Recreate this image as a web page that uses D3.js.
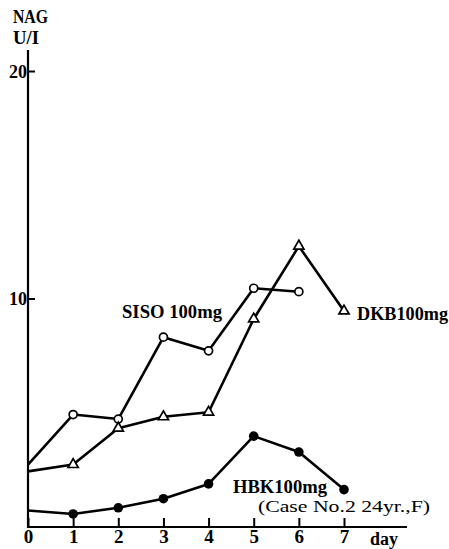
<!DOCTYPE html>
<html><head><meta charset="utf-8">
<script src="https://cdn.jsdelivr.net/npm/d3@7"></script>
<style>
html,body{margin:0;padding:0;background:#fff;}
svg{display:block;}
text{font-family:"Liberation Serif","DejaVu Serif",serif;fill:#000;}
</style></head>
<body>
<script>
const days = [0,1,2,3,4,5,6,7];
const sisoValues = [2.7, 4.9, 4.7, 8.3, 7.7, 10.45, 10.3];
const dkbValues  = [2.4, 2.7, 4.3, 4.8, 5.0, 9.1, 12.3, 9.45];
const hbkValues  = [0.68, 0.53, 0.8, 1.2, 1.85, 3.95, 3.25, 1.6];
const yTicks = [10, 20];

const W = 449, H = 549;
const svg = d3.select("body").append("svg").attr("width", W).attr("height", H);

const x = d3.scaleLinear().domain([0, 7]).range([28, 344]);
const y = d3.scaleLinear().domain([0, 20]).range([526, 71]);

// axes
const yAxis = d3.axisLeft(y).tickValues(yTicks).tickSize(-7).tickPadding(3).tickFormat(d3.format("d"));
const gy = svg.append("g").attr("transform", "translate(28,0)").call(yAxis);
gy.select(".domain").remove();
gy.selectAll(".tick line").attr("stroke", "#000").attr("stroke-width", 2);
gy.selectAll(".tick text").attr("font-size", 18).attr("font-weight", "bold").attr("dy", "0.36em").attr("x", -1);
svg.append("line").attr("x1", 28).attr("x2", 28).attr("y1", 50).attr("y2", 528)
  .attr("stroke", "#000").attr("stroke-width", 2.2);

const xAxis = d3.axisBottom(x).tickValues(days).tickSize(-9).tickPadding(6).tickFormat(d3.format("d"));
const gx = svg.append("g").attr("transform", "translate(0,527)").call(xAxis);
gx.select(".domain").remove();
gx.selectAll(".tick line").attr("stroke", "#000").attr("stroke-width", 2);
gx.selectAll(".tick text").attr("font-size", 19).attr("font-weight", "bold").attr("dy", "0.5em");
svg.append("line").attr("x1", 27).attr("x2", 407).attr("y1", 527).attr("y2", 527)
  .attr("stroke", "#000").attr("stroke-width", 2.2);

function label(xp, yp, size, str, len, bold) {
  const t = svg.append("text").attr("x", xp).attr("y", yp).attr("font-size", size)
    .attr("font-weight", bold ? "bold" : "normal").text(str);
  if (len) t.attr("textLength", len).attr("lengthAdjust", "spacingAndGlyphs");
  return t;
}
label(370, 545, 18, "day", 28, true);
label(13, 23, 19, "NAG", 35, true);
label(13, 44, 19, "U/I", 26, true);

const line = d3.line().x((d, i) => x(days[i])).y(d => y(d));
function drawLine(vals) {
  svg.append("path").datum(vals).attr("d", line).attr("fill", "none")
    .attr("stroke", "#000").attr("stroke-width", 2.6).attr("stroke-linejoin", "round");
}
drawLine(hbkValues);
drawLine(dkbValues);
drawLine(sisoValues);

// markers
svg.append("g").selectAll("circle").data(sisoValues.slice(1)).join("circle")
  .attr("cx", (d, i) => x(days[i + 1])).attr("cy", d => y(d)).attr("r", 4)
  .attr("fill", "#fff").attr("stroke", "#000").attr("stroke-width", 1.7);
const tri = d3.symbol().type(d3.symbolTriangle).size(45);
svg.append("g").selectAll("path").data(dkbValues.slice(1)).join("path")
  .attr("d", tri).attr("transform", (d, i) => `translate(${x(days[i + 1])},${y(d)})`)
  .attr("fill", "#fff").attr("stroke", "#000").attr("stroke-width", 1.7);
svg.append("g").selectAll("circle").data(hbkValues.slice(1)).join("circle")
  .attr("cx", (d, i) => x(days[i + 1])).attr("cy", d => y(d)).attr("r", 4.8)
  .attr("fill", "#000");

// labels
label(122, 318, 18, "SISO 100mg", 100, true);
label(357, 320, 18, "DKB100mg", 91, true);
label(233, 493, 18, "HBK100mg", 94, true);
label(258, 512, 17, "(Case No.2  24yr.,F)", 172, false);
</script>
</body></html>
